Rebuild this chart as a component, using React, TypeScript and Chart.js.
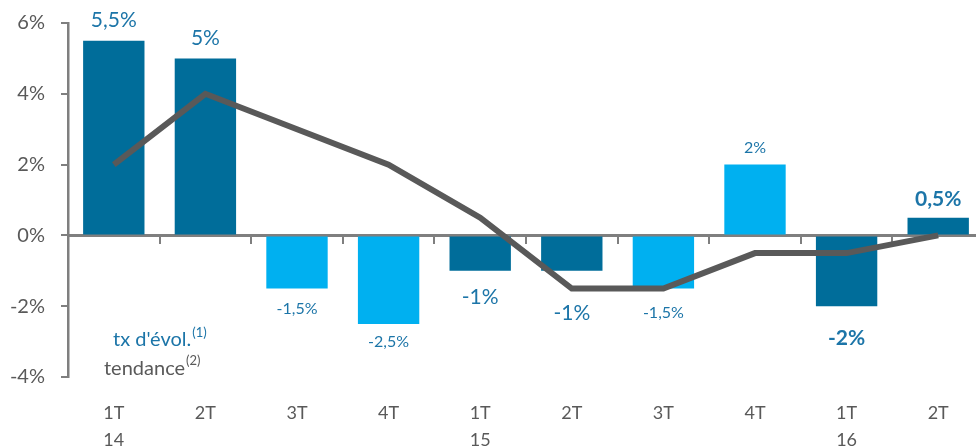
import React, { useEffect, useRef } from "react";
import { Chart, registerables } from "chart.js";

Chart.register(...registerables);

const quarters = ["1T", "2T", "3T", "4T", "1T", "2T", "3T", "4T", "1T", "2T"];
const years = ["14", "", "", "", "15", "", "", "", "16", ""];
const evolution = [5.5, 5, -1.5, -2.5, -1, -1, -1.5, 2, -2, 0.5];
const evolutionLabels = ["5,5%", "5%", "-1,5%", "-2,5%", "-1%", "-1%", "-1,5%", "2%", "-2%", "0,5%"];
const tendance = [2, 4, 3, 2, 0.5, -1.5, -1.5, -0.5, -0.5, 0];
const yTicks = [-4, -2, 0, 2, 4, 6];

const DARK = "#006D9A";
const LIGHT = "#00B0F0";
const barColors = [DARK, DARK, LIGHT, LIGHT, DARK, DARK, LIGHT, LIGHT, DARK, DARK];
const labelSize = [21, 21, 16, 16, 21, 21, 16, 16, 21, 21];
const labelBold = [false, false, false, false, false, false, false, false, true, true];
const labelGap = [20, 20, 20, 18, 26, 42, 24, 17, 32, 18];
const LABEL_COLOR = "#1C75A8";
const GREY = "#595959";
const AXIS = "#7F7F7F";
const FONT = "Lato, 'Open Sans', sans-serif";

const labelPlugin = {
  id: "barLabels",
  afterDatasetsDraw(chart: any) {
    const ctx = chart.ctx;
    const meta = chart.getDatasetMeta(0);
    ctx.save();
    ctx.textAlign = "center";
    ctx.textBaseline = "middle";
    meta.data.forEach((bar: any, i: number) => {
      const v = evolution[i];
      ctx.font = `${labelBold[i] ? "bold " : ""}${labelSize[i]}px ${FONT}`;
      ctx.fillStyle = LABEL_COLOR;
      const y = v >= 0 ? bar.y - labelGap[i] : bar.y + labelGap[i];
      ctx.fillText(evolutionLabels[i], bar.x, y);
    });
    // legend texts
    const ys = chart.scales.y;
    const left = chart.chartArea.left;
    const drawSup = (main: string, sup: string, color: string, x: number, y: number) => {
      ctx.textAlign = "left";
      ctx.textBaseline = "middle";
      ctx.font = `20px ${FONT}`;
      ctx.fillStyle = color;
      ctx.fillText(main, x, y);
      const w = ctx.measureText(main).width;
      ctx.font = `13px ${FONT}`;
      ctx.fillText(sup, x + w + 1, y - 7);
    };
    drawSup("tx d'évol.", "(1)", LABEL_COLOR, left + 45, ys.getPixelForValue(-2.95));
    drawSup("tendance", "(2)", GREY, left + 36, ys.getPixelForValue(-3.75));
    ctx.restore();
  },
};

export default function App() {
  const ref = useRef<HTMLCanvasElement>(null);
  useEffect(() => {
    if (!ref.current) return;
    const chart = new Chart(ref.current, {
      type: "bar",
      data: {
        labels: quarters.map((q, i) => [q, years[i]]),
        datasets: [
          {
            type: "bar",
            label: "tx d'évol.",
            data: evolution,
            backgroundColor: barColors,
            barPercentage: 1,
            categoryPercentage: 0.67,
            order: 2,
            xAxisID: "x",
          },
          {
            type: "line",
            label: "tendance",
            data: tendance,
            borderColor: GREY,
            borderWidth: 6,
            pointRadius: 0,
            tension: 0,
            order: 0,
            xAxisID: "x",
          } as any,
        ],
      },
      options: {
        responsive: false,
        animation: false,
        events: [],
        layout: { padding: { top: 23, right: 2, left: 0, bottom: 0 } },
        plugins: { legend: { display: false }, tooltip: { enabled: false } },
        scales: {
          x: {
            type: "category",
            position: "bottom",
            offset: true,
            grid: { display: false, offset: true },
            border: { display: false },
            ticks: {
              color: GREY,
              font: { family: FONT, size: 18, lineHeight: 1.5 },
              padding: 15,
              maxRotation: 0,
              autoSkip: false,
            },
            afterFit(scale: any) {
              scale.height = 69;
              scale.paddingLeft = 0;
              scale.paddingRight = 0;
            },
          },
          x0: {
            type: "category",
            position: { y: 0 } as any,
            offset: true,
            grid: {
              offset: true,
              drawOnChartArea: false,
              drawTicks: true,
              tickLength: 7,
              color: AXIS,
              lineWidth: 2,
            },
            border: { color: AXIS, width: 3 },
            ticks: { display: false },
          },
          y: {
            min: -4,
            max: 6,
            afterBuildTicks(scale: any) {
              scale.ticks = yTicks.map((v) => ({ value: v }));
            },
            grid: {
              drawOnChartArea: false,
              drawTicks: true,
              tickLength: 7,
              color: AXIS,
              lineWidth: 2,
            },
            border: { color: AXIS, width: 2.5 },
            ticks: {
              color: GREY,
              font: { family: FONT, size: 20 },
              padding: 16,
              callback: (v: any) => `${v}%`,
            },
            afterFit(scale: any) {
              scale.width = 68;
              scale.paddingTop = 0;
              scale.paddingBottom = 0;
            },
          },
        },
      },
      plugins: [labelPlugin],
    });
    return () => chart.destroy();
  }, []);
  return (
    <div style={{ position: "fixed", left: 0, top: 0, width: 976, height: 446, overflow: "hidden", background: "#fff" }}>
      <canvas ref={ref} width={986} height={446} style={{ display: "block" }} />
    </div>
  );
}
